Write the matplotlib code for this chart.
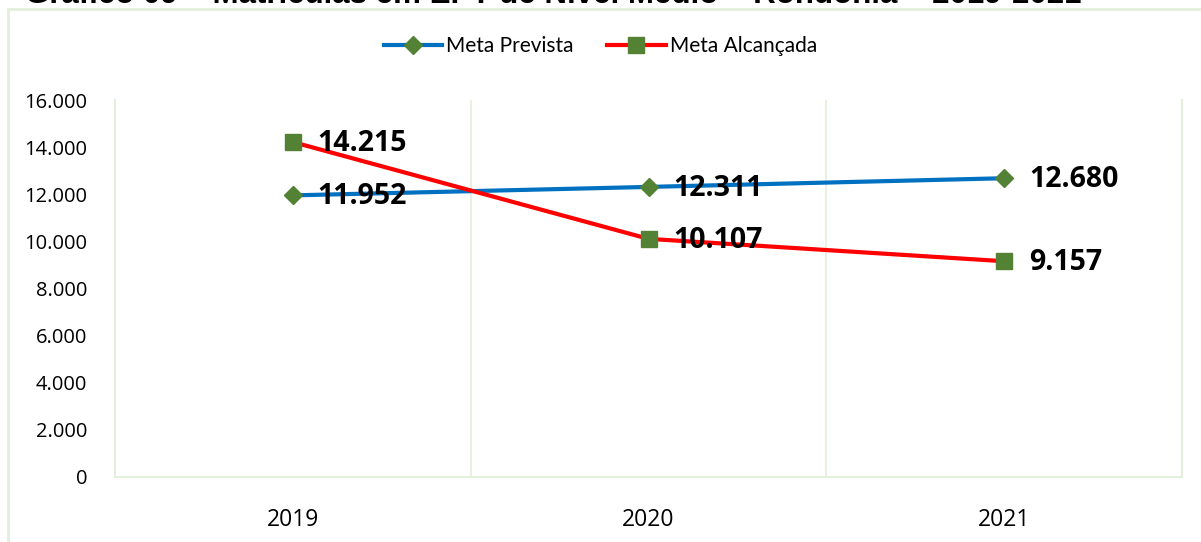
import matplotlib
matplotlib.use("Agg")
import matplotlib.pyplot as plt
from matplotlib.patches import Rectangle

categories = ["2019", "2020", "2021"]
meta_prevista = [11952, 12311, 12680]
meta_alcancada = [14215, 10107, 9157]
yticks = [0, 2000, 4000, 6000, 8000, 10000, 12000, 14000, 16000]
ytick_labels = ["0", "2.000", "4.000", "6.000", "8.000", "10.000", "12.000", "14.000", "16.000"]
title = "Gráfico 09 – Matrículas em EPT de Nível Médio – Rondônia – 2019-2021"

W, H = 1201, 542
fig = plt.figure(figsize=(W / 100, H / 100), dpi=100)
plt.rcParams['font.family'] = ['Lato', 'DejaVu Sans']

grid_c = "#E2EFDA"

# outer chart border
fig.patches.append(Rectangle((8 / W, -0.1), 1.2, (H - 9) / H + 0.1, transform=fig.transFigure,
                             fill=False, edgecolor=grid_c, linewidth=2))

# title, cut off at the top edge as in the reference
fig.text(553 / W, 1.0 + 5 / H, title, ha="center", va="center", fontsize=22.5, fontweight="bold",
         family=["Liberation Sans", "DejaVu Sans"])

ax = fig.add_axes([115 / W, 1 - 477 / H, (1182 - 115) / W, (477 - 100) / H])
x = list(range(len(categories)))

ax.plot(x, meta_prevista, color="#0070C0", linewidth=3, marker="D", markersize=9,
        markerfacecolor="#548235", markeredgecolor="#548235", label="Meta Prevista", zorder=3)
ax.plot(x, meta_alcancada, color="#FF0000", linewidth=3, marker="s", markersize=11,
        markerfacecolor="#548235", markeredgecolor="#548235", label="Meta Alcançada", zorder=3)

def fmt(v):
    return f"{v:,}".replace(",", ".")

for xi, v in zip(x, meta_prevista):
    ax.annotate(fmt(v), (xi, v), xytext=(18, -1), textcoords="offset points",
                ha="left", va="center", fontsize=20.5, fontweight="bold", zorder=4,
                family=["Open Sans", "DejaVu Sans"])
for xi, v in zip(x, meta_alcancada):
    ax.annotate(fmt(v), (xi, v), xytext=(18, -1), textcoords="offset points",
                ha="left", va="center", fontsize=20.5, fontweight="bold", zorder=4,
                family=["Open Sans", "DejaVu Sans"])

ax.set_xlim(-0.5, len(categories) - 0.5)
ax.set_ylim(0, 16000)
ax.set_yticks(yticks)
ax.set_yticklabels(ytick_labels, fontsize=14.5)
ax.set_xticks(x)
ax.set_xticklabels(categories, fontsize=16.5)
for lab in ax.get_xticklabels():
    lab.set_fontfamily(["Open Sans", "DejaVu Sans"])
for lab in ax.get_yticklabels():
    lab.set_fontfamily(["Open Sans", "DejaVu Sans"])
ax.tick_params(axis="both", length=0)
ax.tick_params(axis="y", pad=20)
ax.tick_params(axis="x", pad=22)

for xv in [0.5, 1.5]:
    ax.axvline(xv, color=grid_c, linewidth=1.2, zorder=0)

for s in ["left", "right", "bottom"]:
    ax.spines[s].set_color(grid_c)
    ax.spines[s].set_linewidth(1.5)
ax.spines["top"].set_visible(False)

fig.legend(loc="center", bbox_to_anchor=(0.5, 1 - 46 / H), ncol=2, frameon=False,
           handlelength=2.8, columnspacing=1.6, handletextpad=0.2,
           prop={"family": ["Lato", "DejaVu Sans"], "size": 15})

fig.savefig("out.png", dpi=100)
